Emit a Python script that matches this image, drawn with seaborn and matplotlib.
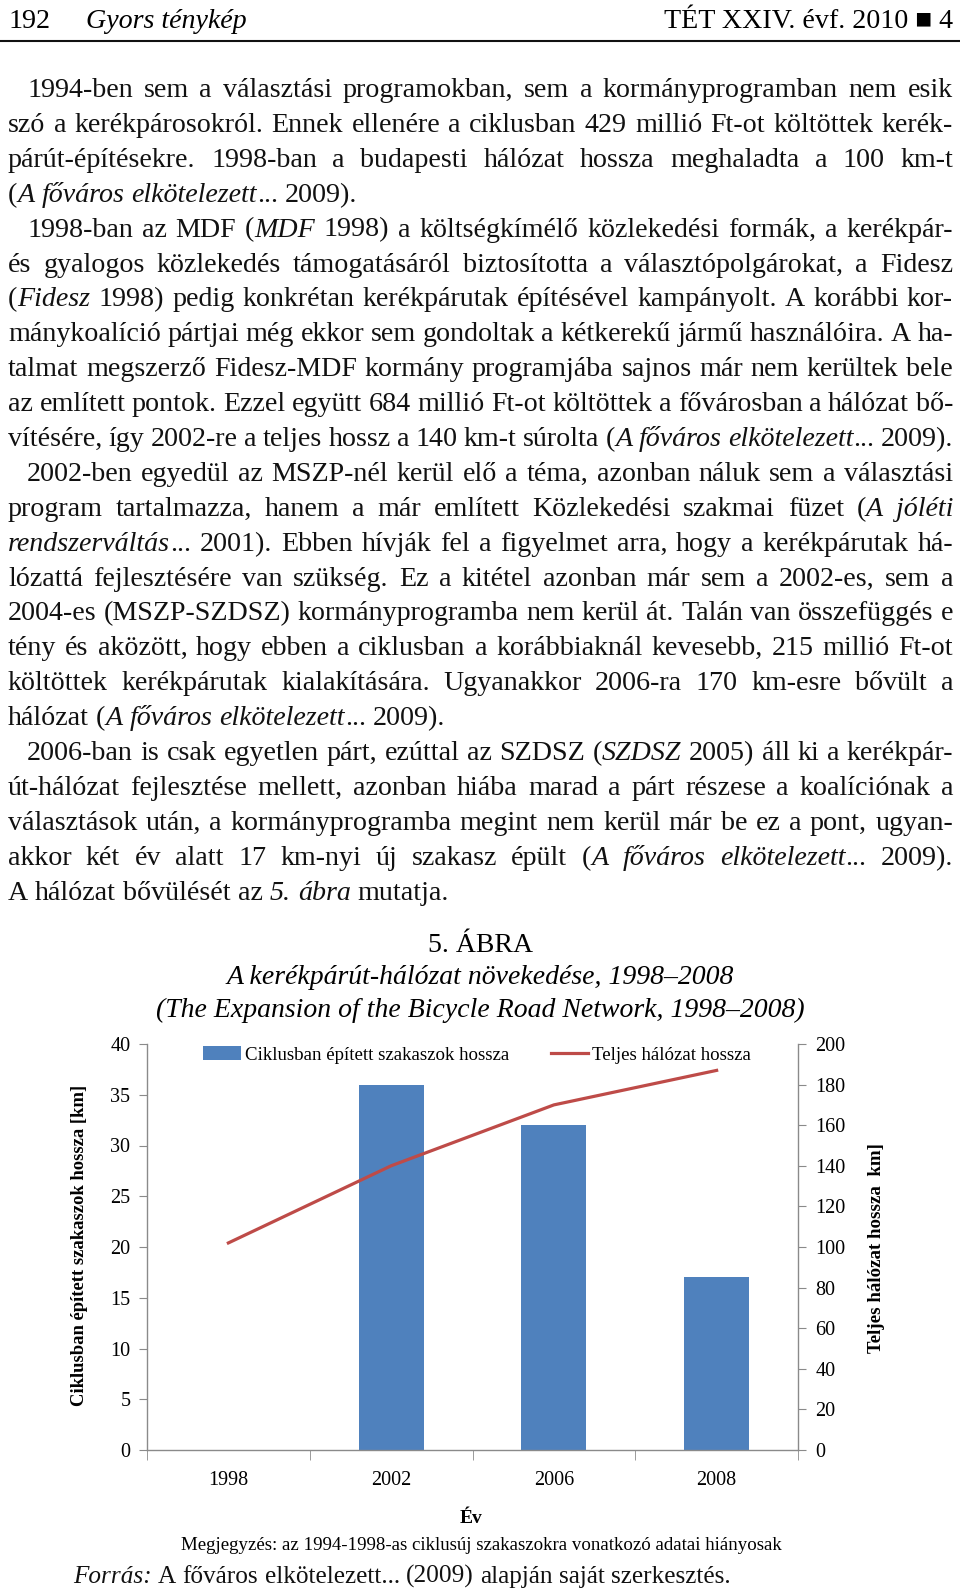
import numpy as np
import pandas as pd
import seaborn as sns
import matplotlib.pyplot as plt

W, H = 960, 1591

# --------------------- data ---------------------
years = ["1998", "2002", "2006", "2008"]
built_km = [0, 36, 32, 17]          # Ciklusban épített szakaszok hossza
total_km = [102, 140, 170, 187]     # Teljes hálózat hossza

left_ticks = list(range(0, 41, 5))
right_ticks = list(range(0, 201, 20))

bar_label = "Ciklusban épített szakaszok hossza"
line_label = "Teljes hálózat hossza"
left_ylabel = "Ciklusban épített szakaszok hossza [km]"
right_ylabel = "Teljes hálózat hossza  km]"
xlabel = "Év"

title_lines = ["5. ÁBRA",
               "A kerékpárút-hálózat növekedése, 1998–2008",
               "(The Expansion of the Bicycle Road Network, 1998–2008)"]
note = "Megjegyzés: az 1994-1998-as ciklusúj szakaszokra vonatkozó adatai hiányosak"
source = "_Forrás:_ A főváros elkötelezett... (2009) alapján saját szerkesztés."

# text of the page; "_" toggles italic
body_lines = [
    "1994-ben sem a választási programokban, sem a kormányprogramban nem esik",
    "szó a kerékpárosokról. Ennek ellenére a ciklusban 429 millió Ft-ot költöttek kerék-",
    "párút-építésekre. 1998-ban a budapesti hálózat hossza meghaladta a 100 km-t",
    "(_A főváros elkötelezett_... 2009).",
    "1998-ban az MDF (_MDF_ 1998) a költségkímélő közlekedési formák, a kerékpár-",
    "és gyalogos közlekedés támogatásáról biztosította a választópolgárokat, a Fidesz",
    "(_Fidesz_ 1998) pedig konkrétan kerékpárutak építésével kampányolt. A korábbi kor-",
    "mánykoalíció pártjai még ekkor sem gondoltak a kétkerekű jármű használóira. A ha-",
    "talmat megszerző Fidesz-MDF kormány programjába sajnos már nem kerültek bele",
    "az említett pontok. Ezzel együtt 684 millió Ft-ot költöttek a fővárosban a hálózat bő-",
    "vítésére, így 2002-re a teljes hossz a 140 km-t súrolta (_A főváros elkötelezett_... 2009).",
    "2002-ben egyedül az MSZP-nél kerül elő a téma, azonban náluk sem a választási",
    "program tartalmazza, hanem a már említett Közlekedési szakmai füzet (_A jóléti_",
    "_rendszerváltás_... 2001). Ebben hívják fel a figyelmet arra, hogy a kerékpárutak há-",
    "lózattá fejlesztésére van szükség. Ez a kitétel azonban már sem a 2002-es, sem a",
    "2004-es (MSZP-SZDSZ) kormányprogramba nem kerül át. Talán van összefüggés e",
    "tény és aközött, hogy ebben a ciklusban a korábbiaknál kevesebb, 215 millió Ft-ot",
    "költöttek kerékpárutak kialakítására. Ugyanakkor 2006-ra 170 km-esre bővült a",
    "hálózat (_A főváros elkötelezett_... 2009).",
    "2006-ban is csak egyetlen párt, ezúttal az SZDSZ (_SZDSZ_ 2005) áll ki a kerékpár-",
    "út-hálózat fejlesztése mellett, azonban hiába marad a párt részese a koalíciónak a",
    "választások után, a kormányprogramba megint nem kerül már be ez a pont, ugyan-",
    "akkor két év alatt 17 km-nyi új szakasz épült (_A főváros elkötelezett_... 2009).",
    "A hálózat bővülését az _5. ábra_ mutatja.",
]
indent_lines = {0, 4, 11, 19}
ragged_lines = {3, 18, 23}

plt.rcParams["font.family"] = ["Liberation Serif", "DejaVu Serif"]

fig = plt.figure(figsize=(W / 100, H / 100), dpi=100)
renderer = fig.canvas.get_renderer()
BODY = 20.2


def fy(y):
    return 1 - y / H


def text_width(s, italic, size):
    t = fig.text(0, 0, s, fontsize=size, style="italic" if italic else "normal")
    w = t.get_window_extent(renderer).width
    t.remove()
    return w


def parse(line):
    words, cur, seg, italic = [], [], "", False
    for ch in line:
        if ch == "_":
            if seg:
                cur.append((seg, italic))
                seg = ""
            italic = not italic
        elif ch == " ":
            if seg:
                cur.append((seg, italic))
                seg = ""
            if cur:
                words.append(cur)
                cur = []
        else:
            seg += ch
    if seg:
        cur.append((seg, italic))
    if cur:
        words.append(cur)
    return words


def draw_line(line, x0, x1, base, size, justify):
    words = parse(line)
    widths = [[text_width(s, it, size) for s, it in w] for w in words]
    space = text_width("a a", False, size) - text_width("aa", False, size)
    if justify and len(words) > 1:
        gap = (x1 - x0 - sum(sum(ws) for ws in widths)) / (len(words) - 1)
    else:
        gap = space
    x = x0
    for w, ws in zip(words, widths):
        for (s, it), sw in zip(w, ws):
            fig.text(x / W, fy(base), s, fontsize=size, va="baseline", ha="left",
                     style="italic" if it else "normal", color="#111111")
            x += sw
        x += gap


# --------------------- page header ---------------------
fig.text(8 / W, fy(28), "192", fontsize=BODY, va="baseline")
fig.text(86 / W, fy(28), "Gyors ténykép", fontsize=BODY, style="italic", va="baseline")
fig.text(953 / W, fy(28), "TÉT XXIV. évf. 2010 ■ 4", fontsize=BODY, va="baseline", ha="right",
         family=["Liberation Serif", "DejaVu Sans"])
fig.add_artist(plt.Line2D([0, 1], [fy(41), fy(41)], color="#111111", linewidth=1.5))

# --------------------- body text ---------------------
for i, line in enumerate(body_lines):
    x0 = 27 if i in indent_lines else 8
    draw_line(line, x0, 953, 97 + i * 34.9, BODY, i not in ragged_lines)

# --------------------- titles ---------------------
fig.text(480 / W, fy(952), title_lines[0], fontsize=20, ha="center", va="baseline")
fig.text(480 / W, fy(984), title_lines[1], fontsize=20, ha="center", va="baseline", style="italic")
fig.text(480 / W, fy(1017), title_lines[2], fontsize=20, ha="center", va="baseline", style="italic")

# --------------------- chart ---------------------
df = pd.DataFrame({"ev": years, "epitett": built_km, "teljes": total_km})
gray = "#8a8a8a"

ax = fig.add_axes([147 / W, fy(1450), 651 / W, 406 / H])
sns.barplot(data=df, x="ev", y="epitett", color="#4F81BD", saturation=1, width=0.4,
            ax=ax, label=bar_label)
ax2 = ax.twinx()
sns.lineplot(x=np.arange(len(years)), y=df["teljes"], ax=ax2, color="#BE4B48",
             linewidth=2.3, label=line_label)

ax.set_xlim(-0.5, len(years) - 0.5)
ax.set_ylim(0, 40)
ax2.set_ylim(0, 200)
ax.set_yticks(left_ticks)
ax2.set_yticks(right_ticks)
ax.set_xticks(range(len(years)))
ax.set_xticklabels(years)
ax.set_xticks(np.arange(-0.5, len(years), 1), minor=True)

ax.tick_params(axis="y", left=True, length=6, color=gray, pad=6, labelsize=14.5)
ax2.tick_params(axis="y", right=True, length=6, color=gray, pad=6.5, labelsize=14.5)
ax.tick_params(axis="x", which="major", bottom=True, length=0, pad=15, labelsize=14.5)
ax.tick_params(axis="x", which="minor", bottom=True, length=7, color=gray)

for a in (ax, ax2):
    for s in a.spines.values():
        s.set_color(gray)
        s.set_linewidth(1)
    a.spines["top"].set_visible(False)
ax.spines["right"].set_visible(False)
ax2.spines["left"].set_visible(False)
ax2.spines["bottom"].set_visible(False)

ax.set_ylabel(left_ylabel, fontsize=13.4, fontweight="bold")
ax.yaxis.set_label_coords(-0.0906, 0.505)
ax2.set_ylabel(right_ylabel, fontsize=13.6, fontweight="bold")
ax2.yaxis.set_label_coords(1.1075, 0.497)
ax.set_xlabel(xlabel, fontsize=14, fontweight="bold")
ax.xaxis.set_label_coords(0.498, -0.148)

h1, l1 = ax.get_legend_handles_labels()
h2, l2 = ax2.get_legend_handles_labels()
if ax.get_legend():
    ax.get_legend().remove()
ax2.legend(h1 + h2, l1 + l2, loc="center", bbox_to_anchor=(0.507, 0.973), ncol=2,
           frameon=False, fontsize=13.6, handlelength=2.0, handletextpad=0.2,
           columnspacing=2.2)

# --------------------- note and source ---------------------
fig.text(481 / W, fy(1550), note, fontsize=13.6, ha="center", va="baseline")
draw_line(source, 73, 953, 1583, 18.2, False)

fig.savefig("out.png", dpi=100, facecolor="white")
